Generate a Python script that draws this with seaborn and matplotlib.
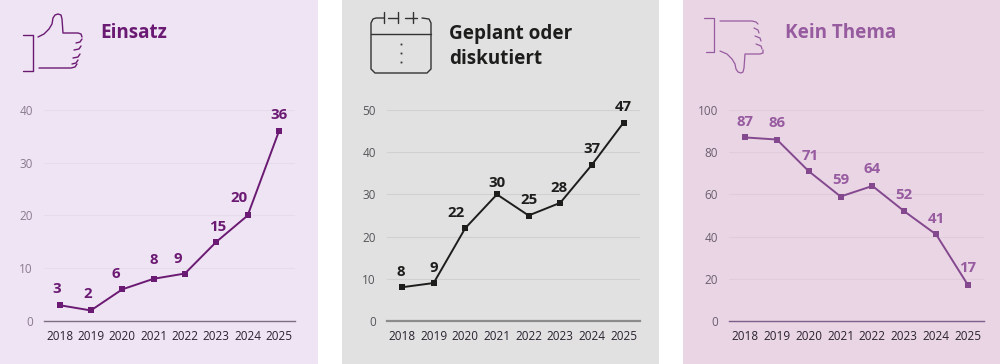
import matplotlib
matplotlib.use("Agg")
import matplotlib.pyplot as plt
from matplotlib.patches import Rectangle
import pandas as pd
import seaborn as sns

sns.set_theme(style="white")
plt.rcParams["font.family"] = ["Open Sans", "DejaVu Sans"]

years = [2018, 2019, 2020, 2021, 2022, 2023, 2024, 2025]
einsatz = [3, 2, 6, 8, 9, 15, 20, 36]
geplant = [8, 9, 22, 30, 25, 28, 37, 47]
kein_thema = [87, 86, 71, 59, 64, 52, 41, 17]

W, H = 1000, 364

fig = plt.figure(figsize=(W / 100, H / 100), dpi=100)
fig.set_facecolor("white")

# pixel overlay for panels, icons and titles
bg = fig.add_axes([0, 0, 1, 1], zorder=0)
bg.set_xlim(0, W)
bg.set_ylim(H, 0)
bg.axis("off")


def add_line(xs, ys, color, lw=1.0):
    bg.plot(xs, ys, color=color, lw=lw, solid_capstyle="round", solid_joinstyle="round", zorder=3)


def thumb_up(c):
    add_line([23, 33, 33, 23], [35, 35, 71, 71], c)
    add_line([38, 44, 49, 52, 53, 55, 58, 61, 62, 63, 78, 81, 82],
             [37, 34, 29, 24, 18, 15, 14, 15, 19, 33, 33, 34, 37], c)
    add_line([39, 71, 75, 77], [68, 68, 67, 64], c)
    add_line([76, 80, 82], [43, 42, 39], c)
    add_line([74, 79, 81], [50, 49, 46], c)
    add_line([73, 78, 80], [58, 57, 54], c)
    add_line([72, 76, 78], [64, 63, 60], c)


def calendar(c):
    add_line([384, 376, 373, 371, 371, 375, 427, 431, 431, 429, 422],
             [18, 18, 19, 23, 69, 73, 73, 69, 23, 19, 18], c)
    add_line([371, 431], [34, 34], c)
    add_line([388, 398], [18, 18], c)
    add_line([405, 417], [18, 18], c)
    for x in (384, 398, 413):
        add_line([x, x], [12, 23], c)
    for y in (44, 53, 62):
        bg.plot([401], [y], "s", color=c, ms=1.3, mew=0)


def thumb_down(c):
    add_line([704, 714, 714, 706], [18, 18, 52, 52], c, 0.9)
    add_line([720, 752, 756, 758], [21, 21, 22, 24], c, 0.9)
    add_line([720, 727, 732, 735, 736, 738, 741, 743, 744, 745, 760, 763, 763],
             [51, 54, 59, 64, 69, 72, 73, 72, 68, 54, 54, 53, 50], c, 0.9)
    add_line([754, 758, 759], [28, 30, 33], c, 0.9)
    add_line([755, 760, 761], [36, 38, 41], c, 0.9)
    add_line([756, 761, 762], [44, 46, 49], c, 0.9)


panels = [
    dict(x0=0, x1=318, bg="#efe4f3", line="#6b1a73", text="#6b1a73", tick="#8a7a90",
         title="Einsatz", vals=einsatz, ymax=40, step=10, left=44, right=295,
         first=59.5, last=279, grid="#e6dcea", axis="#7c6c85", axis_w=1.0,
         title_x=100, title_y=33,
         off=[(-3, 16), (-3, 16), (-6, 15), (0, 19), (-7, 15), (1, 15), (-9, 17), (0, 16)]),
    dict(x0=342, x1=659, bg="#e1e1e1", line="#1d1d1b", text="#1d1d1b", tick="#55555a",
         title="Geplant oder\ndiskutiert", vals=geplant, ymax=50, step=10, left=387, right=640,
         first=402, last=623.5, grid="#d0d0d0", axis="#8c8c8c", axis_w=1.6,
         title_x=449, title_y=46.5,
         off=[(-1, 15), (0, 15), (-9, 15), (0, 11), (0, 15), (-1, 15), (0, 16), (0, 16)]),
    dict(x0=683, x1=1000, bg="#e9d5e4", line="#84488f", text="#975ba0", tick="#6b5f70",
         title="Kein Thema", vals=kein_thema, ymax=100, step=20, left=729, right=984,
         first=745, last=968, grid="#e0ccdc", axis="#7f5f8a", axis_w=1.0,
         title_x=785, title_y=33,
         off=[(0, 15), (0, 17), (1, 15), (0, 17), (0, 17), (0, 16), (0, 15), (0, 17)]),
]

y_top, y_zero = 110, 321

for p in panels:
    bg.add_patch(Rectangle((p["x0"], 0), p["x1"] - p["x0"], H, color=p["bg"], lw=0, zorder=1))
    bg.text(p["title_x"], p["title_y"], p["title"], color=p["text"], fontsize=13.6,
            fontweight="bold", va="center", ha="left", linespacing=1.38, zorder=3)

    ax = fig.add_axes([p["left"] / W, 1 - y_zero / H, (p["right"] - p["left"]) / W, (y_zero - y_top) / H], zorder=2)
    ax.patch.set_alpha(0)
    df = pd.DataFrame({"year": years, "value": p["vals"]})
    sns.lineplot(data=df, x="year", y="value", ax=ax, color=p["line"], lw=1.4, marker="s",
                 markersize=4, markeredgewidth=0, errorbar=None, clip_on=False)
    per_year = (p["last"] - p["first"]) / 7
    ax.set_xlim(2018 - (p["first"] - p["left"]) / per_year, 2025 + (p["right"] - p["last"]) / per_year)
    ax.set_ylim(0, p["ymax"])
    ax.set_xticks(years)
    ax.set_yticks(range(0, p["ymax"] + 1, p["step"]))
    ax.set_xlabel("")
    ax.set_ylabel("")
    ax.grid(axis="y", color=p["grid"], lw=0.8)
    ax.set_axisbelow(True)
    for s in ("top", "left", "right"):
        ax.spines[s].set_visible(False)
    ax.spines["bottom"].set_color(p["axis"])
    ax.spines["bottom"].set_linewidth(p["axis_w"])
    ax.tick_params(axis="x", length=0, pad=6.5, labelsize=8.5, labelcolor="#2a2230")
    ax.tick_params(axis="y", length=0, pad=8, labelsize=8.5, labelcolor=p["tick"])
    for yr, v, (dx, dy) in zip(years, p["vals"], p["off"]):
        ax.annotate(str(v), (yr, v), xytext=(dx * 0.72, dy * 0.72), textcoords="offset points",
                    ha="center", va="center", color=p["text"], fontsize=10.8, fontweight="bold")

thumb_up("#6b1a73")
calendar("#333333")
thumb_down("#975ba0")

fig.savefig("out.png", dpi=100, facecolor="white")
